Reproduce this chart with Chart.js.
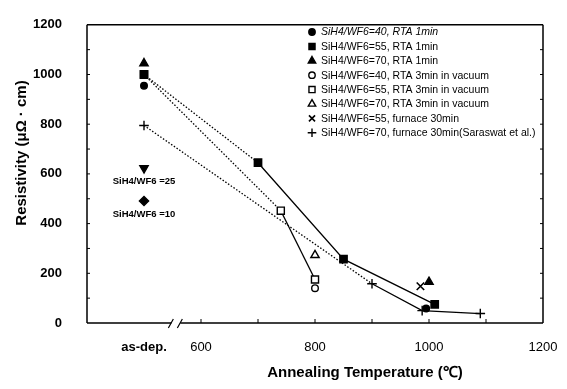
<!DOCTYPE html>
<html>
<head>
<meta charset="utf-8">
<script src="https://cdn.jsdelivr.net/npm/chart.js@4/dist/chart.umd.min.js"></script>
<style>
  html, body { margin: 0; padding: 0; background: #fff; }
  #wrap { width: 567px; height: 389px; position: relative; }
</style>
</head>
<body>
<div id="wrap"><canvas id="chart"></canvas></div>
<script>
// --- data ---
const xTicks = [500, 600, 800, 1000, 1200];      // 500 stands for "as-dep."
const yTicks = [0, 200, 400, 600, 800, 1000, 1200];

const legendLabels = [
    'SiH4/WF6=40, RTA 1min',
    'SiH4/WF6=55, RTA 1min',
    'SiH4/WF6=70, RTA 1min',
    'SiH4/WF6=40, RTA 3min in vacuum',
    'SiH4/WF6=55, RTA 3min in vacuum',
    'SiH4/WF6=70, RTA 3min in vacuum',
    'SiH4/WF6=55, furnace 30min',
    'SiH4/WF6=70, furnace 30min(Saraswat et al.)'
];

const rta1_40_x = [500, 995];
const rta1_40_y = [955, 58];
const rta1_55_x = [500, 700, 850, 1010];
const rta1_55_y = [1000, 645, 257, 75];
const rta1_70_x = [500, 1000];
const rta1_70_y = [1045, 165];
const vac_40_x = [800];
const vac_40_y = [140];
const vac_55_x = [500, 740, 800];
const vac_55_y = [1000, 452, 175];
const vac_70_x = [800];
const vac_70_y = [273];
const furn_55_x = [985];
const furn_55_y = [148];
const furn_70_x = [500, 900, 988, 1090];
const furn_70_y = [795, 158, 50, 38];
const ratio25_x = [500];
const ratio25_y = [623];
const ratio10_x = [500];
const ratio10_y = [491];

const noteLabels = ['SiH4/WF6 =25', 'SiH4/WF6 =10'];

function pts(xs, ys) {
    return xs.map((x, i) => ({ x: x, y: ys[i] }));
}

const dotted = ctx => ctx.p0.parsed.x < 600 ? [1.5, 1.8] : undefined;

function series(label, xs, ys, style, extra) {
    return Object.assign({
        label: label,
        data: pts(xs, ys),
        pointStyle: style,
        borderColor: '#000',
        backgroundColor: '#000',
        pointBorderColor: '#000',
        pointBackgroundColor: '#000',
        pointBorderWidth: 1.4,
        borderWidth: 1.3,
        showLine: false,
        segment: { borderDash: dotted }
    }, extra || {});
}

const datasets = [
    series(legendLabels[0], rta1_40_x, rta1_40_y, 'circle', { pointRadius: 3.3 }),
    series(legendLabels[1], rta1_55_x, rta1_55_y, 'rect', { pointRadius: 5.2, showLine: true }),
    series(legendLabels[2], rta1_70_x, rta1_70_y, 'triangle', { pointRadius: 4.8 }),
    series(legendLabels[3], vac_40_x, vac_40_y, 'circle', { pointRadius: 3.3, pointBackgroundColor: '#fff' }),
    series(legendLabels[4], vac_55_x, vac_55_y, 'rect', { pointRadius: 5, pointBackgroundColor: '#fff', showLine: true }),
    series(legendLabels[5], vac_70_x, vac_70_y, 'triangle', { pointRadius: 4.8, pointBackgroundColor: '#fff' }),
    series(legendLabels[6], furn_55_x, furn_55_y, 'crossRot', { pointRadius: 5.3, pointBorderWidth: 1.6 }),
    series(legendLabels[7], furn_70_x, furn_70_y, 'cross', { pointRadius: 4.8, pointBorderWidth: 1.4, showLine: true }),
    series(noteLabels[0], ratio25_x, ratio25_y, 'triangle', { pointRadius: 4.8, pointRotation: 180 }),
    series(noteLabels[1], ratio10_x, ratio10_y, 'rectRot', { pointRadius: 4.6 })
];

const FONT = '"Liberation Sans", Arial, sans-serif';

// frame, inward ticks, axis break, titles, legend and notes
const decorations = {
    id: 'decorations',
    afterDraw(chart) {
        const ctx = chart.ctx;
        const a = chart.chartArea;
        const xs = chart.scales.x;
        const ys = chart.scales.y;
        const brk = xs.getPixelForValue(555);
        ctx.save();
        ctx.strokeStyle = '#000';
        ctx.lineWidth = 1.5;
        ctx.beginPath();
        ctx.moveTo(a.left, a.top); ctx.lineTo(a.right, a.top);
        ctx.moveTo(a.right, a.top); ctx.lineTo(a.right, a.bottom);
        ctx.moveTo(a.left, a.top); ctx.lineTo(a.left, a.bottom);
        ctx.moveTo(a.left, a.bottom); ctx.lineTo(brk - 4, a.bottom);
        ctx.moveTo(brk + 5, a.bottom); ctx.lineTo(a.right, a.bottom);
        ctx.stroke();
        // break marks
        ctx.lineWidth = 1.2;
        ctx.beginPath();
        ctx.moveTo(brk - 7, a.bottom + 5); ctx.lineTo(brk - 2, a.bottom - 4);
        ctx.moveTo(brk + 2, a.bottom + 5); ctx.lineTo(brk + 7, a.bottom - 4);
        ctx.stroke();
        // inward ticks
        ctx.lineWidth = 1;
        ctx.beginPath();
        for (let v = 100; v < 1200; v += 100) {
            const y = ys.getPixelForValue(v);
            ctx.moveTo(a.left, y); ctx.lineTo(a.left + 3, y);
            ctx.moveTo(a.right, y); ctx.lineTo(a.right - 3, y);
        }
        for (let v = 600; v < 1200; v += 100) {
            const x = xs.getPixelForValue(v);
            ctx.moveTo(x, a.bottom); ctx.lineTo(x, a.bottom - 4);
        }
        ctx.stroke();

        // axis titles
        ctx.fillStyle = '#000';
        ctx.textAlign = 'center';
        ctx.textBaseline = 'middle';
        ctx.font = 'bold 15px ' + FONT;
        ctx.fillText('Annealing Temperature (\u2103)', 365, 373);
        ctx.save();
        ctx.translate(22, 153);
        ctx.rotate(-Math.PI / 2);
        ctx.fillText('Resistivity (\u03bc\u03a9 \u00b7 cm)', 0, 0);
        ctx.restore();

        // notes under the =25 and =10 points
        ctx.font = 'bold 9.5px ' + FONT;
        [8, 9].forEach((di, k) => {
            const p = chart.getDatasetMeta(di).data[0];
            ctx.fillText(noteLabels[k], p.x, p.y + 13);
        });

        // legend
        const lx = 312, ly0 = 32, step = 14.4;
        ctx.textAlign = 'left';
        legendLabels.forEach((lab, i) => {
            const ds = datasets[i];
            const y = ly0 + i * step;
            ctx.fillStyle = ds.pointBackgroundColor;
            ctx.strokeStyle = '#000';
            ctx.lineWidth = ds.pointBorderWidth;
            Chart.helpers.drawPoint(ctx, {
                pointStyle: ds.pointStyle,
                radius: ds.pointStyle === 'circle' ? 3.2 : 4.3,
                rotation: 0,
                borderWidth: ds.pointBorderWidth
            }, lx, y);
            ctx.fillStyle = '#000';
            ctx.font = (i === 0 ? 'italic ' : '') + '10.5px ' + FONT;
            ctx.fillText(lab, lx + 9, y + 0.5);
        });
        ctx.restore();
    }
};

new Chart(document.getElementById('chart'), {
    type: 'scatter',
    data: { datasets: datasets },
    options: {
        responsive: true,
        maintainAspectRatio: false,
        animation: false,
        layout: { padding: { top: 15, right: 24, left: 0, bottom: 0 } },
        plugins: { legend: { display: false }, tooltip: { enabled: false } },
        scales: {
            x: {
                type: 'linear',
                min: 400,
                max: 1200,
                afterFit: s => { s.height = 66; },
                afterBuildTicks: s => { s.ticks = xTicks.map(v => ({ value: v })); },
                grid: { display: false },
                border: { display: false },
                ticks: {
                    color: '#000',
                    padding: 9,
                    maxRotation: 0,
                    autoSkip: false,
                    font: c => c.tick && c.tick.value === 500
                        ? { family: FONT, size: 13, weight: 'bold' }
                        : { family: FONT, size: 13 },
                    callback: v => v === 500 ? 'as-dep.' : String(v)
                }
            },
            y: {
                min: 0,
                max: 1200,
                afterFit: s => { s.width = 87; },
                afterBuildTicks: s => { s.ticks = yTicks.map(v => ({ value: v })); },
                grid: { display: false },
                border: { display: false },
                ticks: {
                    color: '#000',
                    padding: 17,
                    font: { family: FONT, size: 13, weight: 'bold' },
                    callback: v => String(v)
                }
            }
        }
    },
    plugins: [decorations]
});
</script>
</body>
</html>
